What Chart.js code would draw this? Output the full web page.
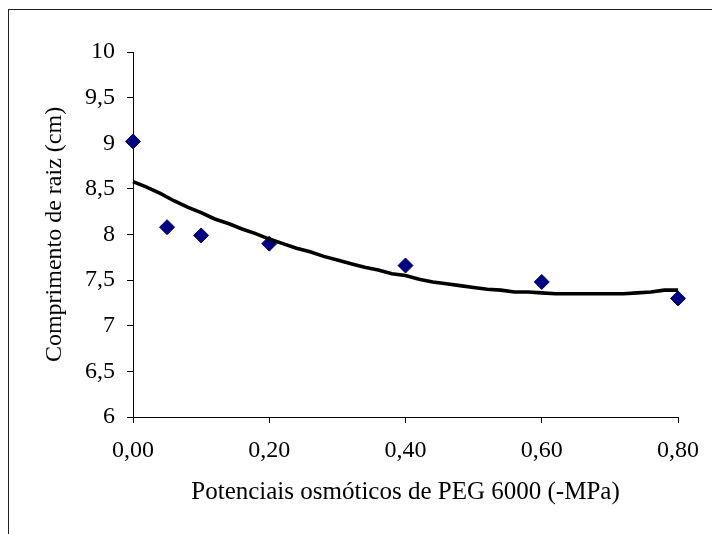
<!DOCTYPE html>
<html>
<head>
<meta charset="utf-8">
<script src="https://cdn.jsdelivr.net/npm/chart.js@4.4.0/dist/chart.umd.min.js"></script>
<style>
  html, body { margin: 0; padding: 0; background: #fff; overflow: hidden; }
  #wrap { position: relative; width: 712px; height: 534px; }
  #frame { position: absolute; left: 8px; top: 9px; width: 760px; height: 600px; border: 1px solid #222; box-sizing: border-box; }
  #chartBox { position: absolute; left: 0; top: 0; width: 712px; height: 534px; }
</style>
</head>
<body>
<div id="wrap">
  <div id="frame"></div>
  <div id="chartBox"><canvas id="rootChart"></canvas></div>
</div>
<script>
// measured points
const pegLevels = [0, 0.05, 0.10, 0.20, 0.40, 0.60, 0.80];
const rootLength = [9.02, 8.08, 7.99, 7.90, 7.66, 7.48, 7.30];

// trendline
const curveX = [0, 0.02, 0.04, 0.06, 0.08, 0.10, 0.12, 0.14, 0.16, 0.18, 0.20,
                0.22, 0.24, 0.26, 0.28, 0.30, 0.32, 0.34, 0.36, 0.38, 0.40,
                0.42, 0.44, 0.46, 0.48, 0.50, 0.52, 0.54, 0.56, 0.58, 0.60,
                0.62, 0.64, 0.66, 0.68, 0.70, 0.72, 0.74, 0.76, 0.78, 0.80];
const curveY = [8.58, 8.52, 8.45, 8.37, 8.30, 8.24, 8.17, 8.12, 8.06, 8.01, 7.95,
                7.90, 7.85, 7.81, 7.76, 7.72, 7.68, 7.64, 7.61, 7.57, 7.55,
                7.51, 7.48, 7.46, 7.44, 7.42, 7.40, 7.39, 7.37, 7.37, 7.36,
                7.35, 7.35, 7.35, 7.35, 7.35, 7.35, 7.36, 7.37, 7.39, 7.39];

const serif = '"Liberation Serif", "Times New Roman", serif';
const comma = (v, d) => (d === undefined ? String(v) : v.toFixed(d)).replace('.', ',');

const ctx = document.getElementById('rootChart').getContext('2d');

new Chart(ctx, {
    type: 'scatter',
    data: {
        datasets: [{
            type: 'line',
            label: 'tendência',
            data: curveX.map((x, i) => ({ x, y: curveY[i] })),
            borderColor: '#000',
            borderWidth: 3.6,
            pointRadius: 0,
            tension: 0,
            fill: false,
            clip: false
        }, {
            label: 'Comprimento',
            data: pegLevels.map((x, i) => ({ x, y: rootLength[i] })),
            pointStyle: 'rectRot',
            pointRadius: 7.5,
            pointBackgroundColor: '#000080',
            pointBorderColor: '#000080',
            pointBorderWidth: 1,
            clip: false
        }]
    },
    options: {
        responsive: true,
        maintainAspectRatio: false,
        animation: false,
        layout: { padding: { left: 0, top: 52, right: 34, bottom: 0 } },
        plugins: {
            legend: { display: false },
            tooltip: { enabled: false }
        },
        scales: {
            x: {
                type: 'linear',
                min: 0,
                max: 0.8,
                afterFit: s => { s.height = 117; },
                ticks: {
                    stepSize: 0.2,
                    padding: 13,
                    color: '#000',
                    font: { family: serif, size: 24 },
                    maxRotation: 0,
                    callback: v => comma(v, 2)
                },
                grid: { drawOnChartArea: false, tickLength: 6, color: '#000' },
                border: { color: '#000', width: 1 },
                title: {
                    display: true,
                    text: 'Potenciais osmóticos de PEG 6000 (-MPa)',
                    color: '#000',
                    font: { family: serif, size: 25 },
                    padding: { top: 0, bottom: 27 }
                }
            },
            y: {
                min: 6,
                max: 10,
                afterFit: s => { s.width = 133; },
                ticks: {
                    stepSize: 0.5,
                    padding: 12,
                    color: '#000',
                    font: { family: serif, size: 24 },
                    callback: v => comma(v)
                },
                grid: { drawOnChartArea: false, tickLength: 6, color: '#000' },
                border: { color: '#000', width: 1 },
                title: {
                    display: true,
                    text: 'Comprimento de raiz (cm)',
                    color: '#000',
                    font: { family: serif, size: 24 },
                    padding: { top: 40, bottom: 0 }
                }
            }
        }
    }
});
</script>
</body>
</html>
